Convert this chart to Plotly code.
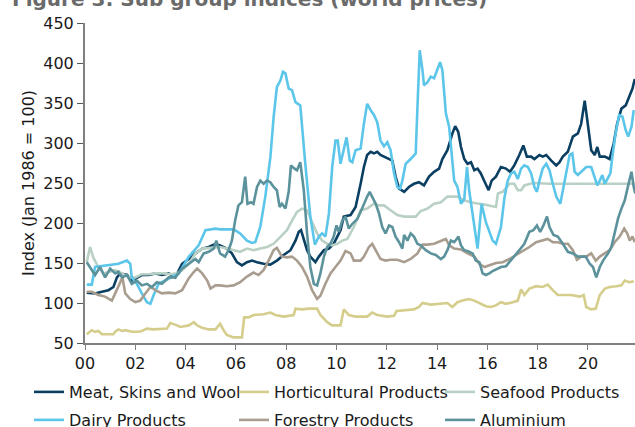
import plotly.graph_objects as go

# ---------------- data ----------------
tick_vals = [2000, 2002, 2004, 2006, 2008, 2010, 2012, 2014, 2016, 2018, 2020]
tick_text = ["00", "02", "04", "06", "08", "10", "12", "14", "16", "18", "20"]

meat_x = [2000.07, 2000.40, 2000.67, 2000.93, 2001.13, 2001.27, 2001.40, 2001.67, 2001.86, 2002.06,
          2002.26, 2002.53, 2002.80, 2003.06, 2003.33, 2003.59, 2003.86, 2004.13, 2004.39, 2004.66,
          2004.92, 2005.19, 2005.37, 2005.64, 2005.84, 2006.04, 2006.24, 2006.44, 2006.64, 2006.84,
          2007.10, 2007.37, 2007.63, 2007.90, 2008.17, 2008.37, 2008.50, 2008.59, 2008.70, 2008.83,
          2008.96, 2009.16, 2009.30, 2009.50, 2009.70, 2009.89, 2010.16, 2010.29, 2010.56, 2010.76,
          2010.96, 2011.09, 2011.22, 2011.36, 2011.49, 2011.62, 2011.75, 2011.89, 2012.09, 2012.22,
          2012.35, 2012.49, 2012.69, 2012.88, 2013.08, 2013.28, 2013.48, 2013.68, 2013.88, 2014.08,
          2014.21, 2014.41, 2014.61, 2014.72, 2014.84, 2014.95, 2015.08, 2015.21, 2015.35, 2015.48,
          2015.61, 2015.74, 2015.90, 2016.05, 2016.17, 2016.34, 2016.54, 2016.74, 2016.90, 2017.07,
          2017.27, 2017.43, 2017.57, 2017.74, 2017.87, 2018.07, 2018.20, 2018.34, 2018.54, 2018.74,
          2018.87, 2019.00, 2019.20, 2019.40, 2019.60, 2019.73, 2019.87, 2020.00, 2020.13, 2020.27,
          2020.37, 2020.47, 2020.67, 2020.86, 2021.02, 2021.16, 2021.33, 2021.50, 2021.64, 2021.77,
          2021.86]
meat_y = [113, 112, 114, 116, 120, 132, 137, 135, 128, 132,
          135, 135, 137, 135, 137, 132, 149, 155, 162, 168,
          170, 174, 172, 168, 162, 151, 147, 151, 153, 151,
          149, 148, 153, 160, 166, 178, 189, 191, 178, 166,
          158, 151, 158, 166, 168, 174, 191, 208, 210, 220,
          249, 270, 285, 289, 287, 289, 285, 283, 280, 278,
          258, 243, 239, 245, 249, 251, 247, 258, 264, 268,
          280, 291, 312, 321, 314, 295, 280, 274, 276, 266,
          268, 262, 251, 241, 253, 258, 270, 268, 264, 272,
          285, 297, 283, 283, 280, 285, 283, 285, 278, 272,
          276, 283, 289, 308, 312, 324, 353, 324, 291, 285,
          295, 283, 283, 280, 299, 324, 343, 347, 357, 368,
          380]

hort_x = [2000.07, 2000.27, 2000.40, 2000.53, 2000.67, 2000.93, 2001.13, 2001.20, 2001.33, 2001.47,
          2001.60, 2001.86, 2002.13, 2002.26, 2002.46, 2002.73, 2003.06, 2003.26, 2003.39, 2003.59,
          2003.79, 2004.13, 2004.33, 2004.46, 2004.66, 2004.92, 2005.19, 2005.37, 2005.51, 2005.64,
          2005.91, 2006.24, 2006.33, 2006.50, 2006.70, 2007.10, 2007.37, 2007.57, 2007.90, 2008.30,
          2008.37, 2008.63, 2008.90, 2009.23, 2009.36, 2009.63, 2009.83, 2010.16, 2010.29, 2010.49,
          2010.76, 2010.96, 2011.22, 2011.42, 2011.62, 2012.02, 2012.29, 2012.39, 2012.69, 2013.08,
          2013.28, 2013.42, 2013.75, 2014.15, 2014.41, 2014.61, 2014.81, 2015.01, 2015.28, 2015.48,
          2015.74, 2015.94, 2016.14, 2016.34, 2016.54, 2016.74, 2017.01, 2017.21, 2017.34, 2017.47,
          2017.67, 2017.94, 2018.20, 2018.40, 2018.60, 2018.80, 2019.00, 2019.34, 2019.67, 2019.83,
          2019.93, 2020.13, 2020.31, 2020.47, 2020.67, 2020.86, 2021.13, 2021.33, 2021.46, 2021.64,
          2021.82]
hort_y = [61, 66, 64, 65, 61, 61, 61, 64, 67, 65,
          66, 64, 64, 65, 68, 67, 68, 68, 75, 73,
          70, 72, 76, 72, 69, 67, 67, 74, 66, 60,
          57, 57, 82, 82, 85, 86, 88, 85, 83, 85,
          93, 92, 93, 93, 85, 76, 72, 72, 92, 85,
          83, 83, 83, 88, 85, 83, 84, 90, 91, 92,
          95, 100, 98, 99, 100, 95, 101, 103, 105, 103,
          99, 96, 95, 97, 101, 99, 101, 103, 117, 110,
          118, 121, 120, 123, 116, 110, 110, 110, 108, 110,
          95, 92, 93, 110, 118, 120, 121, 122, 128, 126,
          127]

sea_x = [2000.07, 2000.20, 2000.34, 2000.53, 2000.73, 2000.93, 2001.20, 2001.47, 2001.73, 2002.00,
         2002.26, 2002.53, 2002.80, 2003.13, 2003.39, 2003.66, 2003.86, 2004.13, 2004.39, 2004.66,
         2004.92, 2005.19, 2005.37, 2005.64, 2005.91, 2006.17, 2006.44, 2006.70, 2006.97, 2007.24,
         2007.50, 2007.77, 2008.03, 2008.23, 2008.43, 2008.63, 2008.83, 2009.03, 2009.23, 2009.43,
         2009.63, 2009.83, 2010.03, 2010.23, 2010.43, 2010.69, 2010.96, 2011.22, 2011.49, 2011.69,
         2011.89, 2012.15, 2012.42, 2012.69, 2013.15, 2013.35, 2013.62, 2013.88, 2014.15, 2014.41,
         2014.81, 2015.08, 2015.48, 2015.88, 2016.21, 2016.34, 2016.42, 2016.61, 2016.88, 2017.07,
         2017.21, 2017.34, 2017.47, 2017.81, 2018.50, 2019.50, 2020.50, 2021.86]
sea_y = [151, 170, 156, 145, 137, 139, 141, 137, 132, 132,
         136, 136, 137, 137, 136, 137, 141, 149, 162, 168,
         169, 170, 170, 168, 166, 164, 168, 166, 168, 170,
         174, 183, 191, 203, 214, 218, 216, 201, 187, 178,
         174, 172, 174, 178, 180, 195, 216, 218, 224, 222,
         222, 216, 210, 208, 208, 215, 218, 224, 226, 233,
         233, 228, 225, 223, 221, 220, 237, 239, 249, 249,
         241, 241, 247, 250, 249, 249, 249, 249]

dairy_x = [2000.07, 2000.27, 2000.40, 2000.93, 2001.33, 2001.67, 2001.80, 2001.86, 2002.06, 2002.26,
           2002.46, 2002.60, 2002.73, 2002.93, 2003.33, 2003.73, 2004.13, 2004.52, 2004.79, 2005.19,
           2005.37, 2005.91, 2006.17, 2006.44, 2006.64, 2006.77, 2006.97, 2007.17, 2007.37, 2007.50,
           2007.63, 2007.77, 2007.87, 2007.97, 2008.10, 2008.23, 2008.37, 2008.56, 2008.76, 2008.96,
           2009.14, 2009.30, 2009.43, 2009.56, 2009.70, 2009.83, 2009.96, 2010.05, 2010.16, 2010.27,
           2010.40, 2010.53, 2010.63, 2010.76, 2010.96, 2011.09, 2011.22, 2011.36, 2011.49, 2011.62,
           2011.75, 2011.89, 2012.02, 2012.15, 2012.29, 2012.42, 2012.53, 2012.62, 2012.75, 2012.95,
           2013.15, 2013.22, 2013.31, 2013.42, 2013.48, 2013.62, 2013.75, 2013.88, 2013.99, 2014.12,
           2014.21, 2014.35, 2014.48, 2014.68, 2014.81, 2014.95, 2015.08, 2015.19, 2015.28, 2015.41,
           2015.61, 2015.77, 2015.94, 2016.21, 2016.34, 2016.54, 2016.68, 2016.81, 2016.94, 2017.07,
           2017.21, 2017.34, 2017.47, 2017.61, 2017.74, 2017.87, 2017.97, 2018.07, 2018.20, 2018.34,
           2018.47, 2018.60, 2018.74, 2018.90, 2019.00, 2019.14, 2019.27, 2019.38, 2019.47, 2019.60,
           2019.73, 2019.93, 2020.13, 2020.27, 2020.37, 2020.47, 2020.57, 2020.67, 2020.80, 2020.89,
           2020.97, 2021.10, 2021.24, 2021.37, 2021.50, 2021.60, 2021.73, 2021.82]
dairy_y = [123, 123, 145, 147, 149, 153, 149, 132, 124, 112,
           101, 99, 110, 124, 130, 137, 158, 172, 191, 193,
           192, 192, 187, 178, 175, 176, 195, 233, 282, 332,
           370, 378, 389, 387, 368, 366, 351, 347, 274, 208,
           173, 183, 187, 183, 212, 270, 303, 303, 274, 291,
           307, 278, 276, 291, 293, 324, 349, 341, 335, 326,
           303, 296, 301, 291, 262, 245, 243, 253, 274, 280,
           287, 345, 416, 391, 372, 376, 383, 381, 391, 401,
           391, 337, 320, 253, 245, 224, 230, 270, 240, 210,
           168, 224, 201, 178, 174, 195, 232, 253, 262, 264,
           255, 268, 272, 270, 262, 245, 239, 253, 268, 274,
           266, 249, 233, 224, 241, 264, 285, 287, 264, 260,
           264, 270, 270, 258, 247, 253, 260, 249, 258, 262,
           283, 312, 335, 333, 316, 308, 320, 341]

forest_x = [2000.07, 2000.27, 2000.53, 2000.80, 2001.07, 2001.20, 2001.40, 2001.49, 2001.60, 2001.80,
            2002.00, 2002.20, 2002.40, 2002.60, 2002.80, 2003.06, 2003.33, 2003.59, 2003.86, 2004.13,
            2004.33, 2004.46, 2004.66, 2004.86, 2004.99, 2005.19, 2005.37, 2005.64, 2005.91, 2006.17,
            2006.44, 2006.70, 2006.90, 2007.10, 2007.30, 2007.50, 2007.63, 2007.83, 2008.03, 2008.23,
            2008.43, 2008.63, 2008.83, 2009.03, 2009.23, 2009.36, 2009.56, 2009.76, 2009.96, 2010.16,
            2010.36, 2010.56, 2010.69, 2010.96, 2011.09, 2011.29, 2011.42, 2011.56, 2011.75, 2011.95,
            2012.15, 2012.42, 2012.69, 2012.95, 2013.22, 2013.42, 2013.62, 2013.88, 2014.15, 2014.35,
            2014.48, 2014.68, 2014.95, 2015.21, 2015.48, 2015.68, 2015.88, 2016.08, 2016.34, 2016.61,
            2016.88, 2017.14, 2017.41, 2017.67, 2017.94, 2018.20, 2018.40, 2018.60, 2018.80, 2019.00,
            2019.20, 2019.40, 2019.56, 2019.73, 2019.93, 2020.13, 2020.31, 2020.47, 2020.67, 2020.86,
            2021.06, 2021.26, 2021.44, 2021.56, 2021.66, 2021.77, 2021.86]
forest_y = [114, 114, 110, 108, 103, 112, 126, 132, 112, 105,
            101, 103, 112, 120, 116, 112, 113, 112, 116, 131,
            139, 143, 137, 128, 118, 122, 122, 121, 122, 126,
            133, 138, 135, 141, 153, 166, 169, 158, 157, 158,
            153, 145, 133, 116, 105, 109, 124, 137, 145, 153,
            165, 162, 153, 153, 158, 170, 174, 166, 155, 153,
            154, 154, 151, 155, 162, 173, 173, 174, 178, 180,
            172, 168, 167, 162, 158, 149, 145, 147, 150, 151,
            155, 160, 165, 170, 176, 178, 180, 176, 176, 174,
            174, 166, 154, 158, 158, 162, 153, 158, 162, 166,
            176, 183, 193, 187, 178, 183, 176]

alu_x = [2000.07, 2000.27, 2000.40, 2000.60, 2000.80, 2001.00, 2001.20, 2001.33, 2001.47, 2001.67,
         2001.86, 2002.06, 2002.26, 2002.46, 2002.66, 2002.86, 2003.06, 2003.33, 2003.59, 2003.86,
         2004.13, 2004.39, 2004.52, 2004.72, 2004.92, 2005.12, 2005.22, 2005.37, 2005.57, 2005.71,
         2005.84, 2005.97, 2006.10, 2006.24, 2006.37, 2006.46, 2006.60, 2006.70, 2006.84, 2006.97,
         2007.10, 2007.24, 2007.37, 2007.50, 2007.63, 2007.74, 2007.83, 2007.97, 2008.10, 2008.19,
         2008.33, 2008.43, 2008.56, 2008.70, 2008.83, 2008.96, 2009.10, 2009.23, 2009.36, 2009.50,
         2009.63, 2009.76, 2009.89, 2010.00, 2010.09, 2010.23, 2010.36, 2010.49, 2010.63, 2010.83,
         2010.96, 2011.09, 2011.22, 2011.32, 2011.42, 2011.56, 2011.69, 2011.82, 2011.95, 2012.09,
         2012.22, 2012.35, 2012.49, 2012.62, 2012.69, 2012.82, 2012.95, 2013.08, 2013.22, 2013.35,
         2013.55, 2013.75, 2013.95, 2014.15, 2014.28, 2014.41, 2014.55, 2014.68, 2014.85, 2014.95,
         2015.08, 2015.21, 2015.41, 2015.54, 2015.68, 2015.81, 2015.94, 2016.08, 2016.21, 2016.34,
         2016.54, 2016.74, 2016.88, 2017.07, 2017.27, 2017.47, 2017.67, 2017.83, 2017.97, 2018.10,
         2018.23, 2018.37, 2018.47, 2018.63, 2018.80, 2019.00, 2019.20, 2019.40, 2019.60, 2019.73,
         2019.91, 2020.07, 2020.20, 2020.33, 2020.47, 2020.60, 2020.80, 2020.93, 2021.06, 2021.20,
         2021.33, 2021.46, 2021.60, 2021.73, 2021.82, 2021.88]
alu_y = [151, 141, 135, 145, 132, 143, 137, 139, 132, 135,
         124, 128, 122, 124, 120, 126, 124, 132, 132, 143,
         149, 155, 151, 162, 164, 168, 178, 162, 158, 166,
         178, 203, 222, 226, 258, 224, 226, 224, 245, 253,
         249, 253, 251, 245, 241, 220, 224, 218, 239, 272,
         268, 266, 276, 241, 187, 145, 124, 122, 137, 158,
         170, 174, 183, 197, 189, 203, 208, 193, 199, 205,
         214, 224, 233, 239, 233, 224, 212, 195, 187, 197,
         195, 183, 176, 168, 185, 178, 187, 183, 174, 172,
         166, 162, 160, 155, 158, 166, 178, 176, 183, 172,
         166, 165, 162, 153, 151, 137, 135, 137, 140, 142,
         145, 146, 151, 158, 166, 174, 189, 191, 197, 189,
         197, 208, 195, 185, 183, 174, 164, 162, 158, 158,
         158, 149, 145, 132, 145, 153, 162, 170, 187, 206,
         218, 228, 247, 264, 245, 237]

series_names = ["Meat, Skins and Wool", "Horticultural Products", "Seafood Products",
                "Dairy Products", "Forestry Products", "Aluminium"]
series_colors = ["#0B3F62", "#D5CD8C", "#B9D1C5", "#5CC6EA", "#A99D8F", "#5B929B"]

# ---------------- figure ----------------
xs = [meat_x, hort_x, sea_x, dairy_x, forest_x, alu_x]
ys = [meat_y, hort_y, sea_y, dairy_y, forest_y, alu_y]

W, H = 635, 427
font_family = "DejaVu Sans, Verdana, sans-serif"

# legend grid: 3 columns x 2 rows (pixel anchors of each legend entry)
legend_ids = ["legend", "legend2", "legend3", "legend4", "legend5", "legend6"]
legend_left_px = [29, 234, 440, 29, 234, 440]
legend_mid_px = [392, 392, 392, 420, 420, 420]

fig = go.Figure()
for name, color, x, y, lg in zip(series_names, series_colors, xs, ys, legend_ids):
    fig.add_trace(go.Scatter(x=x, y=y, mode="lines", name=name, legend=lg,
                             line=dict(color=color, width=2.6)))

legend_layout = {}
for lg, lx, ly in zip(legend_ids, legend_left_px, legend_mid_px):
    legend_layout[lg] = dict(orientation="h", xref="container", yref="container",
                             x=lx / W, xanchor="left", y=1 - ly / H, yanchor="middle",
                             font=dict(family=font_family, size=16, color="#1a1a1a"),
                             bgcolor="rgba(0,0,0,0)")

fig.update_layout(
    width=W, height=H,
    margin=dict(l=85, r=0, t=23, b=84, autoexpand=False),
    paper_bgcolor="white", plot_bgcolor="white",
    font=dict(family=font_family, size=16, color="#1a1a1a"),
    title=dict(text="<b>Figure 3: Sub group indices (world prices)</b>",
               font=dict(family=font_family, size=20, color="#6a6a6a"),
               xref="container", x=12 / W, xanchor="left",
               yref="container", y=1 - 6 / H, yanchor="bottom"),
    showlegend=True,
    **legend_layout,
    xaxis=dict(range=[2000, 2021.87], tickvals=tick_vals, ticktext=tick_text,
               showgrid=False, zeroline=False, showline=True, linecolor="#808080",
               linewidth=2, ticks="outside", ticklen=5, tickcolor="#808080", tickwidth=1,
               tickfont=dict(size=16, color="#1a1a1a")),
    yaxis=dict(range=[50, 450], dtick=50, tick0=50,
               showgrid=False, zeroline=False, showline=True, linecolor="#808080",
               linewidth=2, ticks="outside", ticklen=6, tickcolor="#555555", tickwidth=1,
               tickfont=dict(size=16, color="#1a1a1a"),
               title=dict(text="Index (Jan 1986 = 100)", standoff=5,
                          font=dict(size=16, color="#1a1a1a"))),
)

fig.write_html("out.html", config={"displayModeBar": False},
               post_script="document.body.style.margin='0px';document.body.style.overflow='hidden';")
